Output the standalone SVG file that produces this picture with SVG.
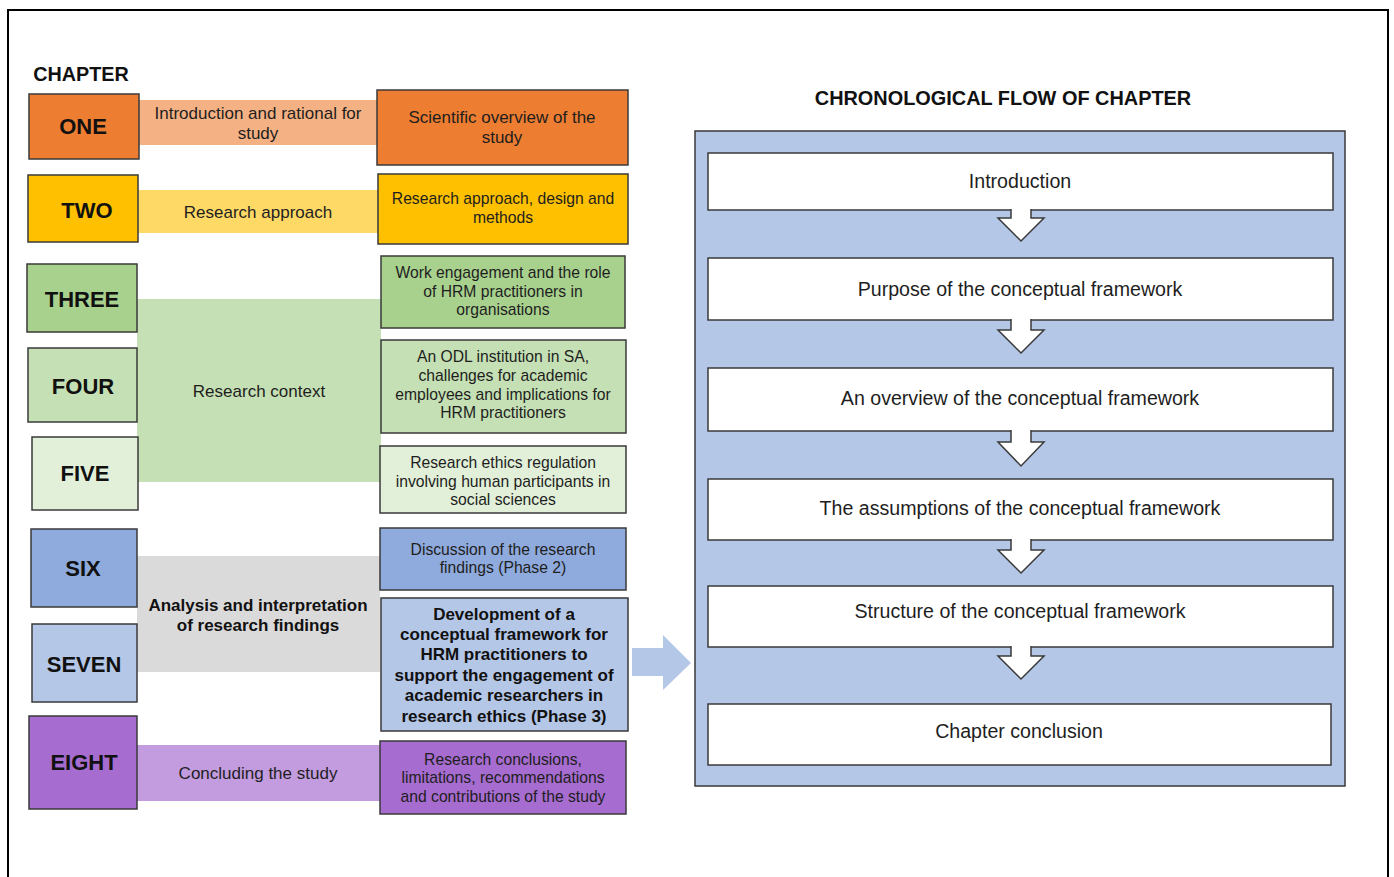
<svg xmlns="http://www.w3.org/2000/svg" width="1394" height="877" viewBox="0 0 1394 877">
<style>
text{font-family:"Liberation Sans",Arial,sans-serif;fill:#1e1e1e;text-anchor:middle}
.lab{font-size:22px;font-weight:bold;fill:#111}
.band{font-size:17px}
.bx{font-size:15.7px}
.bxb{font-size:17px;font-weight:bold;fill:#111}
.fl{font-size:19.6px}
.box{stroke:#3a3a3a;stroke-width:1.5}
.wbox{fill:#fff;stroke:#3a3a3a;stroke-width:1.5}
.dn{fill:#fff;stroke:#3a3a3a;stroke-width:1.5}
</style>
<rect x="0" y="0" width="1394" height="877" fill="#fff"/>
<rect x="8" y="10" width="1380" height="900" fill="none" stroke="#000" stroke-width="2"/>
<text x="81" y="81" style="font-size:19.8px;font-weight:bold;fill:#111">CHAPTER</text>

<!-- bands -->
<g id="bands">
<rect x="139" y="100" width="238" height="45" fill="#F4B183"/>
<rect x="138" y="190" width="240" height="43" fill="#FFD966"/>
<rect x="137" y="299" width="244" height="183" fill="#C5E0B4"/>
<rect x="137" y="556" width="243" height="116" fill="#DADADA"/>
<rect x="137" y="745" width="243" height="56" fill="#C39BDF"/>
<text class="band" x="258" y="119">Introduction and rational for</text>
<text class="band" x="258" y="139">study</text>
<text class="band" x="258" y="218">Research approach</text>
<text class="band" x="259" y="397">Research context</text>
<text class="band" x="258" y="611" style="font-weight:bold;fill:#111">Analysis and interpretation</text>
<text class="band" x="258" y="631" style="font-weight:bold;fill:#111">of research findings</text>
<text class="band" x="258" y="779">Concluding the study</text>
</g>

<!-- chapter labels -->
<g id="ch1"><rect class="box" x="29" y="94" width="110" height="65" fill="#ED7D31"/><text class="lab" x="83" y="134">ONE</text></g>
<g id="ch2"><rect class="box" x="28" y="175" width="110" height="67" fill="#FFC000"/><text class="lab" x="87" y="218">TWO</text></g>
<g id="ch3"><rect class="box" x="27" y="264" width="110" height="68" fill="#A9D18E"/><text class="lab" x="82" y="307">THREE</text></g>
<g id="ch4"><rect class="box" x="28" y="348" width="109" height="74" fill="#C5E0B4"/><text class="lab" x="83" y="394">FOUR</text></g>
<g id="ch5"><rect class="box" x="32" y="437" width="106" height="73" fill="#E2F0D9"/><text class="lab" x="85" y="481">FIVE</text></g>
<g id="ch6"><rect class="box" x="31" y="529" width="106" height="78" fill="#8FAADC"/><text class="lab" x="83" y="576">SIX</text></g>
<g id="ch7"><rect class="box" x="32" y="624" width="105" height="78" fill="#B4C7E7"/><text class="lab" x="84" y="672">SEVEN</text></g>
<g id="ch8"><rect class="box" x="29" y="716" width="108" height="93" fill="#A66CCF"/><text class="lab" x="84" y="770">EIGHT</text></g>

<!-- topic boxes -->
<g id="t1"><rect class="box" x="377" y="90" width="251" height="75" fill="#ED7D31"/>
<text class="bx" x="502" y="123" style="font-size:17px">Scientific overview of the</text><text class="bx" x="502" y="143" style="font-size:17px">study</text></g>
<g id="t2"><rect class="box" x="378" y="174" width="250" height="70" fill="#FFC000"/>
<text class="bx" x="503" y="204">Research approach, design and</text><text class="bx" x="503" y="223">methods</text></g>
<g id="t3"><rect class="box" x="381" y="256" width="244" height="72" fill="#A9D18E"/>
<text class="bx" x="503" y="278">Work engagement and the role</text><text class="bx" x="503" y="297">of HRM practitioners in</text><text class="bx" x="503" y="315">organisations</text></g>
<g id="t4"><rect class="box" x="381" y="340" width="245" height="93" fill="#C5E0B4"/>
<text class="bx" x="503" y="362">An ODL institution in SA,</text><text class="bx" x="503" y="381">challenges for academic</text><text class="bx" x="503" y="400">employees and implications for</text><text class="bx" x="503" y="418">HRM practitioners</text></g>
<g id="t5"><rect class="box" x="380" y="446" width="246" height="67" fill="#E2F0D9"/>
<text class="bx" x="503" y="468">Research ethics regulation</text><text class="bx" x="503" y="487">involving human participants in</text><text class="bx" x="503" y="505">social sciences</text></g>
<g id="t6"><rect class="box" x="380" y="528" width="246" height="62" fill="#8FAADC"/>
<text class="bx" x="503" y="555">Discussion of the research</text><text class="bx" x="503" y="573">findings (Phase 2)</text></g>
<g id="t7"><rect class="box" x="381" y="598" width="247" height="133" fill="#B4C7E7"/>
<text class="bxb" x="504" y="620">Development of a</text><text class="bxb" x="504" y="640">conceptual framework for</text><text class="bxb" x="504" y="660">HRM practitioners to</text><text class="bxb" x="504" y="681">support the engagement of</text><text class="bxb" x="504" y="701">academic researchers in</text><text class="bxb" x="504" y="722">research ethics (Phase 3)</text></g>
<g id="t8"><rect class="box" x="380" y="741" width="246" height="73" fill="#A66CCF"/>
<text class="bx" x="503" y="765">Research conclusions,</text><text class="bx" x="503" y="783">limitations, recommendations</text><text class="bx" x="503" y="802">and contributions of the study</text></g>

<!-- big arrow -->
<g id="bigarrow"><polygon points="632,648 663,648 663,635 691,663 663,690 663,676 632,676" fill="#B4C7E7"/></g>

<!-- right panel -->
<text x="1003" y="105" style="font-size:19.9px;font-weight:bold;fill:#111">CHRONOLOGICAL FLOW OF CHAPTER</text>
<g id="panel"><rect x="695" y="131" width="650" height="655" fill="#B4C7E7" stroke="#3a3a3a" stroke-width="1.5"/></g>
<g id="f1"><rect class="wbox" x="708" y="153" width="625" height="57"/><text class="fl" x="1020" y="188">Introduction</text></g>
<g id="f2"><rect class="wbox" x="708" y="258" width="625" height="62"/><text class="fl" x="1020" y="296">Purpose of the conceptual framework</text></g>
<g id="f3"><rect class="wbox" x="708" y="368" width="625" height="63"/><text class="fl" x="1020" y="405">An overview of the conceptual framework</text></g>
<g id="f4"><rect class="wbox" x="708" y="479" width="625" height="61"/><text class="fl" x="1020" y="515">The assumptions of the conceptual framework</text></g>
<g id="f5"><rect class="wbox" x="708" y="586" width="625" height="61"/><text class="fl" x="1020" y="618">Structure of the conceptual framework</text></g>
<g id="f6"><rect class="wbox" x="708" y="704" width="623" height="61"/><text class="fl" x="1019" y="738">Chapter conclusion</text></g>

<g id="connectors">
<path class="dn" d="M1011,209 V218 H998 L1021,241 L1044,218 H1031 V209"/>
<path class="dn" d="M1011,319 V330 H998 L1021,353 L1044,330 H1031 V319"/>
<path class="dn" d="M1011,430 V442 H998 L1021,466 L1044,442 H1031 V430"/>
<path class="dn" d="M1011,539 V550 H998 L1021,573 L1044,550 H1031 V539"/>
<path class="dn" d="M1011,646 V656 H998 L1021,679 L1044,656 H1031 V646"/>
</g>
</svg>
